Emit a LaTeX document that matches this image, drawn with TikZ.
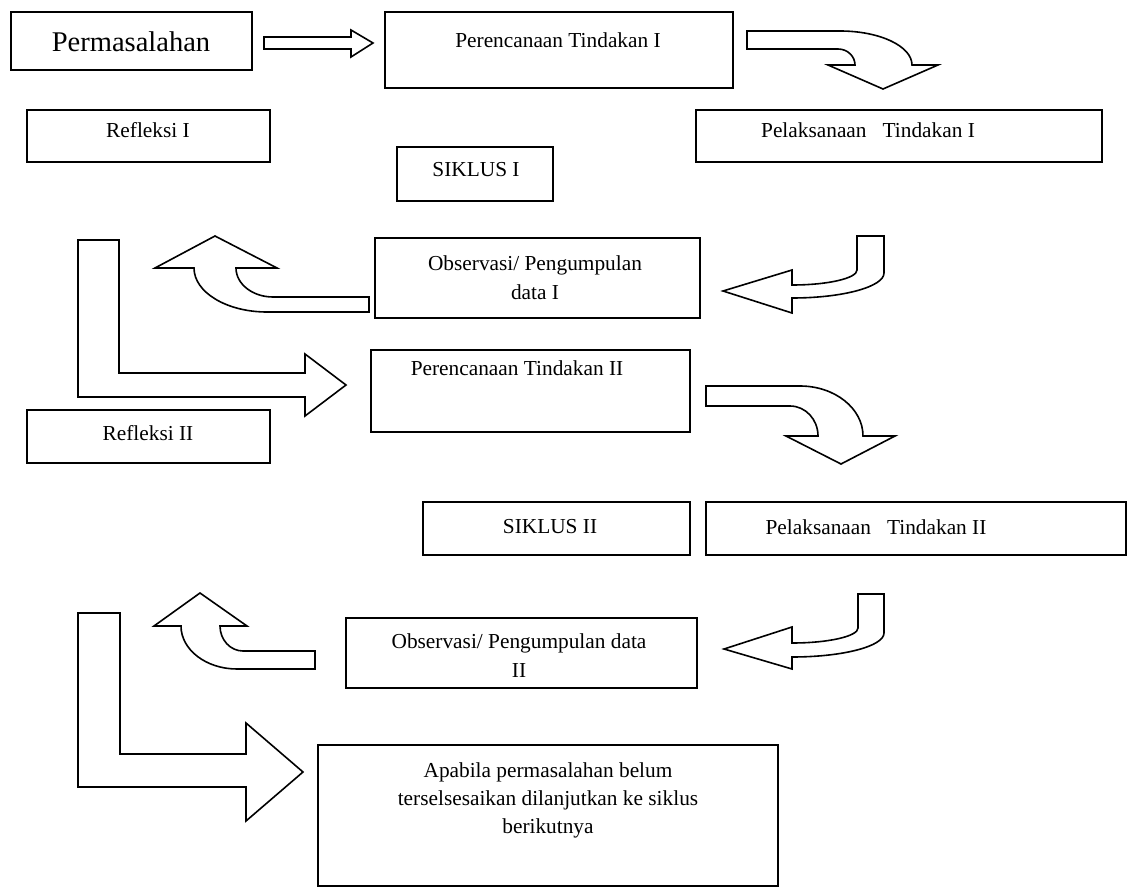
\documentclass[tikz,border=0pt]{standalone}
\usepackage{fontspec}
\setmainfont{Liberation Serif}
\usetikzlibrary{fit}
\begin{document}
\begin{tikzpicture}[x=0.75pt,y=-0.75pt,
  box/.style={draw,line width=1.4pt,inner sep=0pt,rectangle},
  txt/.style={font=\fontsize{16}{21}\selectfont,inner sep=0pt,align=center},
  bigtxt/.style={font=\fontsize{21.4}{26}\selectfont,inner sep=0pt},
  blockarrow/.style={draw,line width=1.2pt,fill=white,line join=miter}]
\useasboundingbox (0,0) rectangle (1128,888);
% boxes
\node[box,fit={(11,12) (252,70)}] (perm) {};
\node[box,fit={(385,12) (733,88)}] (pt1) {};
\node[box,fit={(27,110) (270,162)}] (ref1) {};
\node[box,fit={(397,147) (553,201)}] (sik1) {};
\node[box,fit={(696,110) (1102,162)}] (pel1) {};
\node[box,fit={(375,238) (700,318)}] (obs1) {};
\node[box,fit={(371,350) (690,432)}] (pt2) {};
\node[box,fit={(27,410) (270,463)}] (ref2) {};
\node[box,fit={(423,502) (690,555)}] (sik2) {};
\node[box,fit={(706,502) (1126,555)}] (pel2) {};
\node[box,fit={(346,618) (697,688)}] (obs2) {};
\node[box,fit={(318,745) (778,886)}] (apa) {};
% texts
\node[bigtxt] (tperm) at (131,42) {Permasalahan};
\node[txt] (tpt1) at (558,40) {Perencanaan Tindakan I};
\node[txt] (tref1) at (148,130) {Refleksi I};
\node[txt] (tsik1) at (476,170) {SIKLUS I};
\node[txt] (tpel1) at (868,130) {Pelaksanaan\ \ \ Tindakan I};
\node[txt] (tobs1a) at (535,265) {Observasi/ Pengumpulan};
\node[txt] (tobs1b) at (535,292) {data I};
\node[txt] (tpt2) at (517,368) {Perencanaan Tindakan II};
\node[txt] (tref2) at (148,433) {Refleksi II};
\node[txt] (tsik2) at (550,527) {SIKLUS II};
\node[txt] (tpel2) at (876,527) {Pelaksanaan\ \ \ Tindakan II};
\node[txt] (tobs2a) at (519,643) {Observasi/ Pengumpulan data};
\node[txt] (tobs2b) at (519,671) {II};
\node[txt] (tapa1) at (548,772) {Apabila permasalahan belum};
\node[txt] (tapa2) at (548,800) {terselsesaikan dilanjutkan ke siklus};
\node[txt] (tapa3) at (548,828) {berikutnya};
% block arrows
% A: straight
\draw[blockarrow] (264,37) -- (351,37) -- (351,30) -- (373,43) -- (351,57) -- (351,49) -- (264,49) -- cycle;
% B: top right curved down
\draw[blockarrow] (747,31) -- (840,31) .. controls (879.8,31) and (912,46.2) .. (912,65)
  -- (938,65) -- (883,89) -- (828,65) -- (855,65)
  .. controls (855,56.2) and (847.4,49) .. (838,49) -- (747,49) -- cycle;
% C: from obs1 curving up-left
\draw[blockarrow] (369,297) -- (273,297) .. controls (252.6,297) and (236,284) .. (236,268)
  -- (277,268) -- (215,236) -- (155,268) -- (194,268)
  .. controls (194,292.3) and (226.7,312) .. (267,312) -- (369,312) -- cycle;
% D: from pel1 curving down-left
\draw[blockarrow] (857,236) -- (884,236) -- (884,273) .. controls (884,286.8) and (842.8,298) .. (792,298)
  -- (792,313) -- (723,291) -- (792,270) -- (792,285)
  .. controls (827.9,285) and (857,278.3) .. (857,270) -- cycle;
% E: big L 1
\draw[blockarrow] (78,240) -- (119,240) -- (119,373) -- (305,373) -- (305,354) -- (346,385) -- (305,416) -- (305,397) -- (78,397) -- cycle;
% F: from pt2 curving down
\draw[blockarrow] (706,386) -- (800,386) .. controls (834.8,386) and (863,408.4) .. (863,436)
  -- (895,436) -- (841,464) -- (786,436) -- (818,436)
  .. controls (818,419.4) and (805.5,406) .. (790,406) -- (706,406) -- cycle;
% G: from pel2 curving down-left
\draw[blockarrow] (858,594) -- (884,594) -- (884,633) .. controls (884,646.3) and (842.8,657) .. (792,657)
  -- (792,669) -- (724,649) -- (792,627) -- (792,643)
  .. controls (828.5,643) and (858,636.3) .. (858,628) -- cycle;
% H: from obs2 curving up-left
\draw[blockarrow] (315,651) -- (243,651) .. controls (230.3,651) and (220,639.8) .. (220,626)
  -- (247,626) -- (200,593) -- (154,626) -- (181,626)
  .. controls (181,649.7) and (206.1,669) .. (237,669) -- (315,669) -- cycle;
% I: big L 2
\draw[blockarrow] (78,613) -- (120,613) -- (120,754) -- (246,754) -- (246,723) -- (303,772) -- (246,821) -- (246,787) -- (78,787) -- cycle;
\end{tikzpicture}
\end{document}
